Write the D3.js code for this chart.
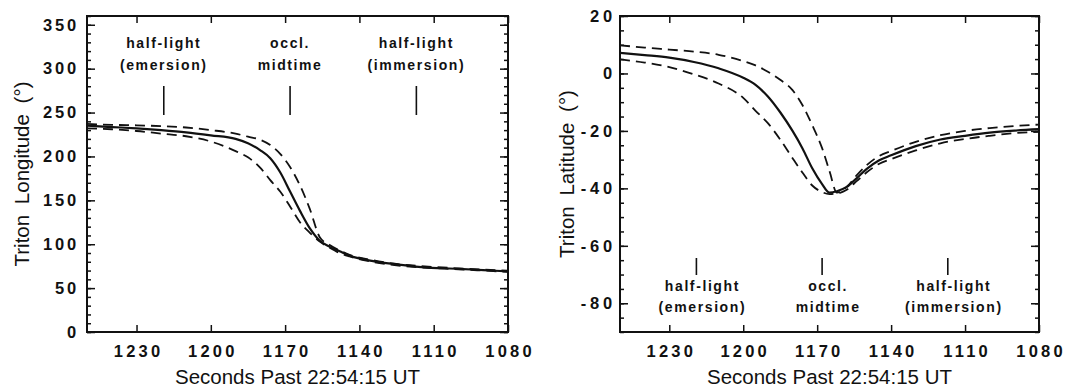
<!DOCTYPE html>
<html>
<head>
<meta charset="utf-8">
<script src="https://cdn.jsdelivr.net/npm/d3@7"></script>
<style>
body { margin: 0; background: #fff; }
svg text { font-family: "Liberation Sans", Arial, Helvetica, sans-serif; fill: #111; }
</style>
</head>
<body>
<svg width="1068" height="389"></svg>
<script>
// seconds past 22:54:15 UT (time runs right to left)
var lonTimes = [1250, 1240, 1230, 1220, 1210, 1200, 1190, 1185, 1180, 1176, 1172, 1168, 1164, 1160, 1156, 1152, 1148, 1144, 1135, 1125, 1115, 1100, 1090, 1080];
var lonSolid = [235, 233.5, 232, 230, 227.5, 224, 220, 215, 207, 198, 182, 160, 138, 118, 104, 97, 92, 87, 81, 77, 74, 72, 70.5, 69];
var lonUpper = [237, 236, 235.5, 234.5, 233, 230, 226, 222.5, 219, 213, 203, 188, 167, 140, 108, 99, 93, 88, 82, 77.5, 75, 72.5, 71, 70];
var lonLower = [232, 231, 229, 226, 223, 217, 206, 199, 187, 173, 160, 143, 125, 113, 103, 96, 90, 86, 80, 76, 73.5, 71.5, 70, 68.5];

var latTimes = [1250, 1240, 1230, 1220, 1210, 1200, 1195, 1190, 1185, 1180, 1176, 1172, 1168, 1165, 1162, 1158, 1154, 1150, 1145, 1140, 1130, 1120, 1110, 1100, 1090, 1080];
var latSolid = [7.2, 6.4, 5.5, 4.0, 1.8, -1.5, -4, -8, -13.5, -20, -26, -33, -38.5, -41.5, -41, -39.5, -36.5, -33.3, -30.3, -28.5, -25.3, -23, -21.7, -20.6, -19.9, -19.4];
var latUpper = [9.8, 9.0, 8.3, 7.6, 6.5, 4.3, 2.8, 0.6, -2.2, -5.8, -11, -18, -26, -34, -41.5, -39.5, -35.5, -32, -28.8, -27, -23.8, -21.5, -20, -19, -18.3, -17.8];
var latLower = [4.9, 3.8, 2.2, -0.3, -3.5, -8.5, -13, -17.3, -23, -29.5, -34.5, -39, -41.3, -42, -41.8, -40.5, -37.5, -34.5, -31.5, -29.8, -26.8, -24.3, -22.8, -21.7, -20.8, -20.3];

var timeTicks = [1230, 1200, 1170, 1140, 1110, 1080];
var lonTicks = [0, 50, 100, 150, 200, 250, 300, 350];
var lonMinor = d3.range(0, 361, 10);
var latTicks = [20, 0, -20, -40, -60, -80];
var latMinor = d3.range(-90, 21, 5);

var markTimes = [1219, 1168, 1117];
var markLabels = [["half-light", "(emersion)"], ["occl.", "midtime"], ["half-light", "(immersion)"]];

var svg = d3.select("svg");

function drawPanel(p) {
    var x = d3.scaleLinear().domain([1250, 1080]).range([p.left, p.right]);
    var y = d3.scaleLinear().domain(p.yDomain).range([p.bottom, p.top]);
    var g = svg.append("g");

    g.append("clipPath").attr("id", p.id + "clip")
        .append("rect")
        .attr("x", p.left).attr("y", p.top)
        .attr("width", p.right - p.left).attr("height", p.bottom - p.top);

    // minor ticks first, then the labelled ones
    g.append("g").attr("transform", "translate(" + p.left + ",0)")
        .call(d3.axisLeft(y).tickValues(p.minor).tickSize(-4).tickFormat(""));
    g.append("g").attr("transform", "translate(" + p.right + ",0)")
        .call(d3.axisRight(y).tickValues(p.minor).tickSize(-4).tickFormat(""));
    g.append("g").attr("class", "yax").attr("transform", "translate(" + p.left + ",0)")
        .call(d3.axisLeft(y).tickValues(p.yTicks).tickSize(-8).tickPadding(p.yPad).tickFormat(String));
    g.append("g").attr("transform", "translate(" + p.right + ",0)")
        .call(d3.axisRight(y).tickValues(p.yTicks).tickSize(-8).tickFormat(""));
    g.append("g").attr("class", "xax").attr("transform", "translate(0," + p.bottom + ")")
        .call(d3.axisBottom(x).tickValues(timeTicks).tickSize(-7).tickPadding(13).tickFormat(String));
    g.append("g").attr("transform", "translate(0," + p.top + ")")
        .call(d3.axisTop(x).tickValues(timeTicks).tickSize(-7).tickFormat(""));

    g.selectAll(".domain").remove();
    g.selectAll(".tick line").attr("stroke", "#111").attr("stroke-width", 1.5);
    g.selectAll(".yax text, .xax text")
        .attr("font-size", "16.5px")
        .attr("font-weight", "bold")
        .style("font-family", "'Liberation Sans', Arial, sans-serif");
    g.selectAll(".yax text").attr("letter-spacing", p.ls + "px");
    g.selectAll(".xax text").attr("letter-spacing", "3.2px").attr("dx", "1.5px");

    g.append("rect")
        .attr("x", p.left).attr("y", p.top)
        .attr("width", p.right - p.left).attr("height", p.bottom - p.top)
        .attr("fill", "none").attr("stroke", "#111").attr("stroke-width", 2);

    var line = function (vals) {
        return d3.line()
            .x(function (d, i) { return x(p.times[i]); })
            .y(function (d) { return y(d); })
            .curve(d3.curveMonotoneX)(vals);
    };

    var lines = g.append("g").attr("clip-path", "url(#" + p.id + "clip)");
    [p.upper, p.lower].forEach(function (s) {
        lines.append("path").attr("d", line(s))
            .attr("fill", "none").attr("stroke", "#111")
            .attr("stroke-width", 1.8).attr("stroke-dasharray", "10,6");
    });
    lines.append("path").attr("d", line(p.solid))
        .attr("fill", "none").attr("stroke", "#111").attr("stroke-width", 2.2);

    // event markers
    markTimes.forEach(function (t, i) {
        g.append("line")
            .attr("x1", x(t)).attr("x2", x(t))
            .attr("y1", p.markY[0]).attr("y2", p.markY[1])
            .attr("stroke", "#111").attr("stroke-width", 1.6);
        markLabels[i].forEach(function (s, j) {
            g.append("text")
                .attr("x", x(t) + p.textShift).attr("y", p.textY[j])
                .attr("text-anchor", "middle")
                .attr("font-size", "14px").attr("font-weight", "bold")
                .attr("letter-spacing", "1.6px")
                .text(s);
        });
    });

    g.append("text")
        .attr("x", (p.left + p.right) / 2).attr("y", 384)
        .attr("text-anchor", "middle")
        .attr("font-size", "20.5px")
        .text("Seconds Past 22:54:15 UT");

    g.append("text")
        .attr("transform", "translate(" + p.titleX + "," + ((p.top + p.bottom) / 2) + ") rotate(-90)")
        .attr("text-anchor", "middle")
        .attr("font-size", "20.5px")
        .attr("word-spacing", "5px")
        .text(p.title);
}

drawPanel({
    id: "lon", left: 87, right: 508, top: 16, bottom: 332,
    yDomain: [0, 360], yTicks: lonTicks, minor: lonMinor, yPad: 8, ls: 2.8,
    times: lonTimes, solid: lonSolid, upper: lonUpper, lower: lonLower,
    markY: [86, 115], textY: [48, 70], textShift: 0,
    titleX: 29, title: "Triton Longitude (°)"
});

drawPanel({
    id: "lat", left: 620, right: 1039, top: 16, bottom: 332,
    yDomain: [-90, 20], yTicks: latTicks, minor: latMinor, yPad: 4, ls: 3.8,
    times: latTimes, solid: latSolid, upper: latUpper, lower: latLower,
    markY: [258, 275], textY: [291, 312], textShift: 6,
    titleX: 574, title: "Triton Latitude (°)"
});
</script>
</body>
</html>
